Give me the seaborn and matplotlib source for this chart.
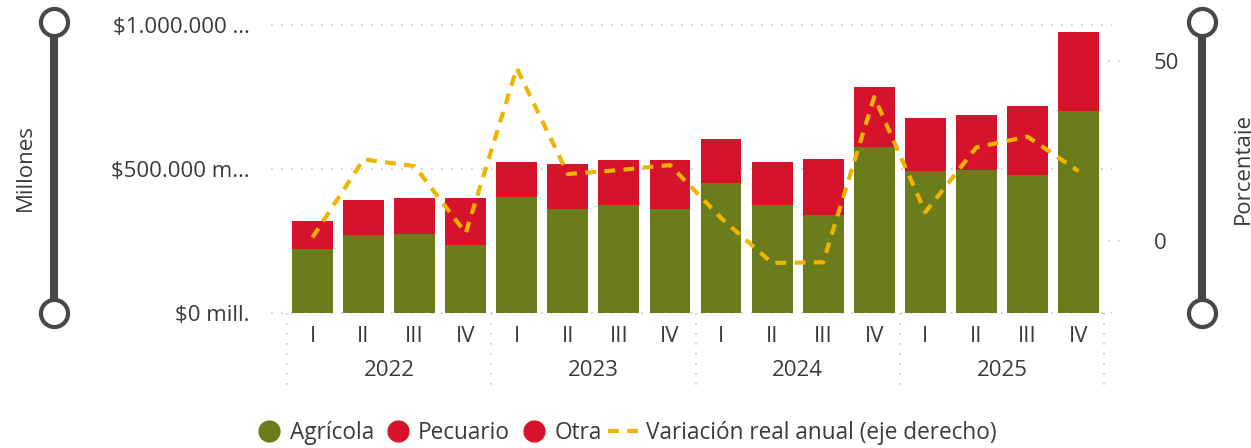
import matplotlib
matplotlib.use("Agg")
import matplotlib.pyplot as plt
import numpy as np
import pandas as pd
import seaborn as sns
from matplotlib.lines import Line2D

# values (millones de pesos, % variación)
years = ["2022", "2023", "2024", "2025"]
quarters = ["I", "II", "III", "IV"]
agricola = [222, 271, 274, 236, 403, 361, 375, 361, 451, 375, 340, 576, 493, 497, 479, 701]
pecuario = [90, 114, 118, 156, 114, 148, 148, 162, 146, 141, 187, 201, 176, 182, 232, 266]
otra = [7, 7, 7, 7, 7, 8, 8, 8, 7, 8, 8, 8, 8, 8, 8, 9]
variacion = [1, 22.7, 20.8, 2.2, 48, 18.6, 19.7, 21.1, 6.4, -6.1, -5.9, 40, 8, 26, 29, 19.4]

GREEN = "#6A7C1B"
RED = "#D7122B"
YELLOW = "#F0B400"
TEXT = "#3B3B3B"
DECOR = "#474747"
GRID = "#C8C8C8"

labels = [f"{y}-{q}" for y in years for q in quarters]
df = pd.DataFrame({
    "periodo": labels,
    "agricola": np.array(agricola) * 1000,
    "pecuario": np.array(pecuario) * 1000,
    "otra": np.array(otra) * 1000,
    "variacion": variacion,
})
df["stack2"] = df["agricola"] + df["pecuario"]
df["stack3"] = df["stack2"] + df["otra"]

sns.set_style("white")
plt.rcParams["font.family"] = ["Open Sans", "DejaVu Sans"]
FS = 16

W, H = 1251, 448
fig = plt.figure(figsize=(W / 100, H / 100), dpi=100)
ax = fig.add_axes([287 / W, (H - 313) / H, 817 / W, 288 / H])

# stacked bars as overlapping layers (top layer first)
for col, c in [("stack3", RED), ("stack2", RED), ("agricola", GREEN)]:
    sns.barplot(data=df, x="periodo", y=col, color=c, order=labels, width=0.8,
                saturation=1, linewidth=0, edgecolor="none", ax=ax)

ax.set_xlim(-0.5, 15.5)
ax.set_ylim(0, 1_000_000)
ax.set_yticks([0, 500_000, 1_000_000])
ax.set_yticklabels(["$0 mill.", "$500.000 m…", "$1.000.000 …"])
ax.set_xticks(range(16))
ax.set_xticklabels(quarters * 4)
ax.set_xlabel("")
ax.set_ylabel("")
ax.tick_params(axis="y", length=0, pad=27, labelsize=FS, labelcolor=TEXT)
ax.tick_params(axis="x", length=0, pad=9, labelsize=FS, labelcolor=TEXT)
for s in ax.spines.values():
    s.set_visible(False)

# dotted gridlines, slightly wider than the plot area
for yv in [0, 500_000, 1_000_000]:
    ax.plot([-0.02, 1.01], [yv, yv], transform=ax.get_yaxis_transform(),
            color=GRID, lw=1.2, ls=(0, (1, 5)), clip_on=False, zorder=0)

# year separators and year labels
for xv in [-0.5, 3.5, 7.5, 11.5, 15.5]:
    ax.plot([xv, xv], [0, -0.27], transform=ax.get_xaxis_transform(),
            color=GRID, lw=1.2, ls=(0, (1, 5)), clip_on=False)
for i, y in enumerate(years):
    ax.text(i * 4 + 1.5, -0.198, y, transform=ax.get_xaxis_transform(),
            ha="center", va="center", fontsize=FS, color=TEXT)

ax2 = ax.twinx()
sns.lineplot(x=np.arange(16), y=df["variacion"], color=YELLOW, lw=3.0,
             dashes=False, ax=ax2)
ax2.lines[0].set_linestyle((0, (2.6, 2.0)))
ax2.lines[0].set_dash_capstyle("butt")
ax2.set_ylim(-20, 60)
ax2.set_yticks([0, 50])
ax2.set_ylabel("")
ax2.tick_params(axis="y", length=0, pad=36, labelsize=FS, labelcolor=TEXT)
for s in ax2.spines.values():
    s.set_visible(False)
for yv in [0, 50]:
    ax2.plot([1.005, 1.02], [yv, yv], transform=ax2.get_yaxis_transform(),
             color=GRID, lw=1.2, ls=(0, (1, 5)), clip_on=False)

# axis title decorations
for xc in [54, 1202]:
    fig.add_artist(Line2D([xc / W, xc / W], [1 - 22 / H, 1 - 313 / H],
                          transform=fig.transFigure, color=DECOR, lw=5.8,
                          solid_capstyle="butt"))
    fig.add_artist(Line2D([xc / W, xc / W], [1 - 22 / H, 1 - 313 / H],
                          transform=fig.transFigure, ls="none", marker="o",
                          ms=19.5, mew=3, mec=DECOR, mfc="white"))
fig.text(25 / W, 1 - 168 / H, "Millones", rotation=90, ha="center", va="center",
         fontsize=FS, color=TEXT)
fig.text(1243 / W, 1 - 168 / H, "Porcentaje", rotation=90, ha="center", va="center",
         fontsize=FS, color=TEXT)

handles = [
    Line2D([], [], ls="none", marker="o", ms=15, color=GREEN, label="Agrícola"),
    Line2D([], [], ls="none", marker="o", ms=15, color=RED, label="Pecuario"),
    Line2D([], [], ls="none", marker="o", ms=15, color=RED, label="Otra"),
    Line2D([], [], color=YELLOW, lw=3.0, ls=(0, (2.6, 2.0)), dash_capstyle="butt",
           label="Variación real anual (eje derecho)"),
]
leg = fig.legend(handles=handles, loc="center", bbox_to_anchor=(0.499, 1 - 433 / H),
                 ncol=4, frameon=False, fontsize=16.3, handlelength=1.5,
                 handletextpad=0.15, columnspacing=0.3, borderaxespad=0)
for t in leg.get_texts():
    t.set_color(TEXT)

fig.savefig("out.png", dpi=100)
plt.close(fig)
